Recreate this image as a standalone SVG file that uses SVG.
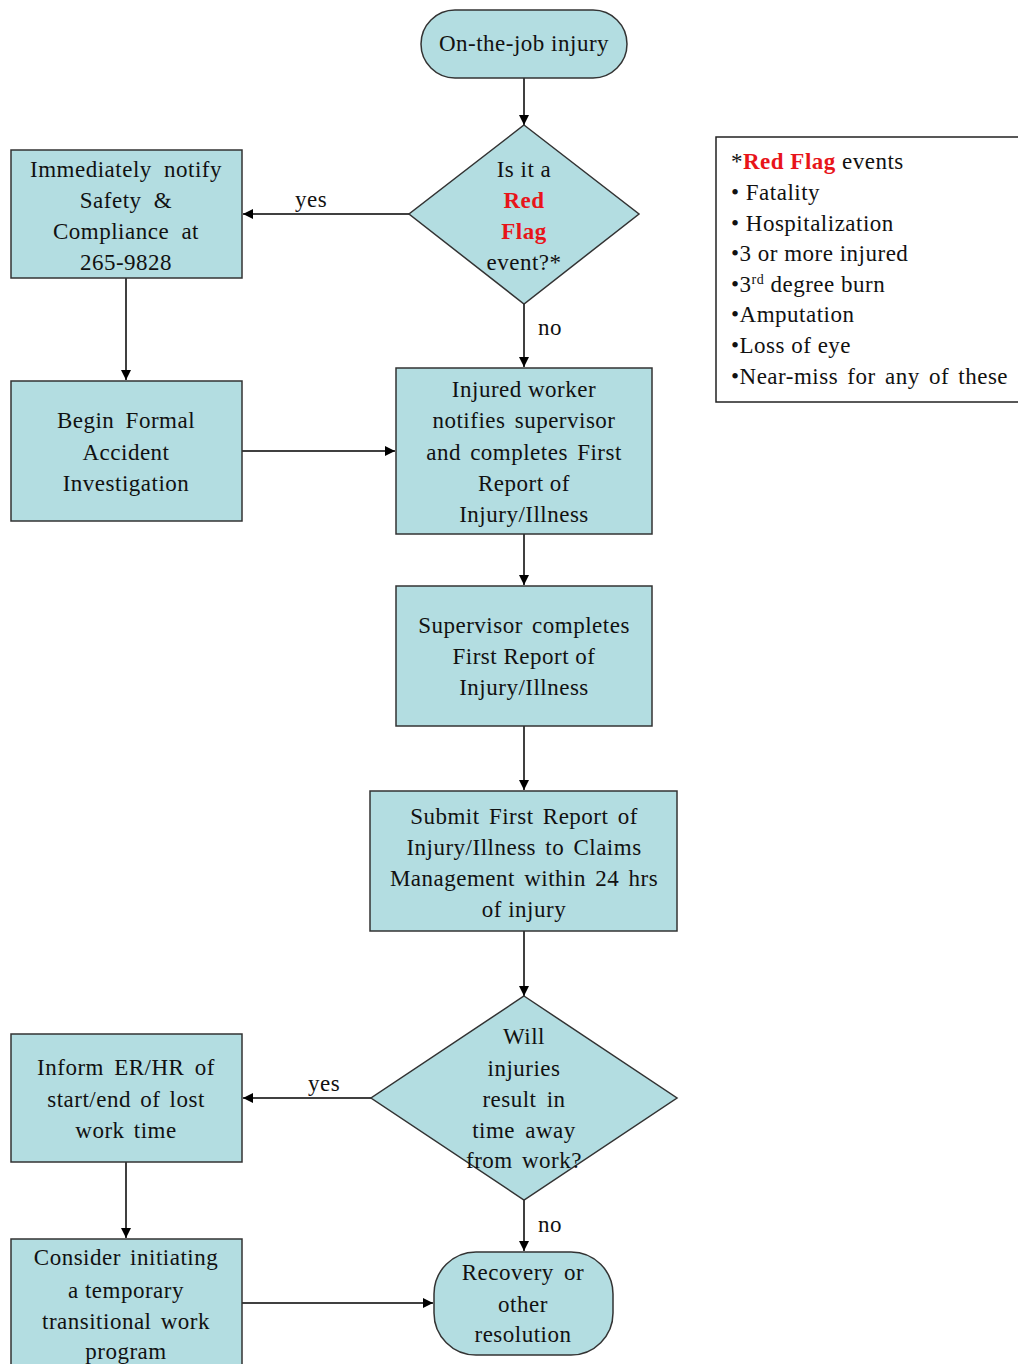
<svg xmlns="http://www.w3.org/2000/svg" width="1018" height="1364" viewBox="0 0 1018 1364">
<defs>
<marker id="ah" viewBox="0 0 10 10" refX="10" refY="5" markerWidth="10" markerHeight="10" markerUnits="userSpaceOnUse" orient="auto">
<path d="M0,0 L10,5 L0,10 z" fill="#000"/>
</marker>
<style>
.n{fill:#b3dde1;stroke:#333;stroke-width:1.5}
.t{font-family:"Liberation Serif","Times New Roman",serif;font-size:23px;letter-spacing:0.5px;fill:#111;text-anchor:middle}
.r{fill:#e8141a;font-weight:bold}
.l{font-family:"Liberation Serif","Times New Roman",serif;font-size:23px;letter-spacing:0.5px;fill:#111}
.c{stroke:#000;stroke-width:1.5;fill:none;marker-end:url(#ah)}
</style>
</defs>
<rect width="1018" height="1364" fill="#fff"/>
<g id="connectors">
<line class="c" x1="524" y1="78" x2="524" y2="125"/>
<line class="c" x1="409" y1="214" x2="243" y2="214"/>
<line class="c" x1="126" y1="278" x2="126" y2="380"/>
<line class="c" x1="242" y1="451" x2="395" y2="451"/>
<line class="c" x1="524" y1="304" x2="524" y2="367"/>
<line class="c" x1="524" y1="534" x2="524" y2="585"/>
<line class="c" x1="524" y1="726" x2="524" y2="790"/>
<line class="c" x1="524" y1="931" x2="524" y2="996"/>
<line class="c" x1="371" y1="1098" x2="243" y2="1098"/>
<line class="c" x1="126" y1="1162" x2="126" y2="1238"/>
<line class="c" x1="242" y1="1303" x2="433" y2="1303"/>
<line class="c" x1="524" y1="1200" x2="524" y2="1251"/>
<text class="l" x="295" y="207">yes</text>
<text class="l" x="538" y="335">no</text>
<text class="l" x="308" y="1091">yes</text>
<text class="l" x="538" y="1232">no</text>
</g>
<g id="start">
<rect class="n" x="421" y="10" width="206" height="68" rx="34"/>
<text class="t" x="524" y="51">On-the-job injury</text>
</g>
<g id="redflag">
<polygon class="n" points="524,125 639,214 524,304 409,214"/>
<text class="t" x="524" y="177">Is it a</text>
<text class="t r" x="524" y="208">Red</text>
<text class="t r" x="524" y="239">Flag</text>
<text class="t" x="524" y="270">event?*</text>
</g>
<g id="notify">
<rect class="n" x="11" y="150" width="231" height="128"/>
<text class="t" x="126" y="177" word-spacing="6">Immediately notify</text>
<text class="t" x="126" y="208" word-spacing="6">Safety &amp;</text>
<text class="t" x="126" y="239" word-spacing="6">Compliance at</text>
<text class="t" x="126" y="270">265-9828</text>
</g>
<g id="investigation">
<rect class="n" x="11" y="381" width="231" height="140"/>
<text class="t" x="126" y="428" word-spacing="5">Begin Formal</text>
<text class="t" x="126" y="460">Accident</text>
<text class="t" x="126" y="491">Investigation</text>
</g>
<g id="worker">
<rect class="n" x="396" y="368" width="256" height="166"/>
<text class="t" x="524" y="397">Injured worker</text>
<text class="t" x="524" y="428" word-spacing="3">notifies supervisor</text>
<text class="t" x="524" y="460" word-spacing="3">and completes First</text>
<text class="t" x="524" y="491">Report of</text>
<text class="t" x="524" y="522">Injury/Illness</text>
</g>
<g id="supervisor">
<rect class="n" x="396" y="586" width="256" height="140"/>
<text class="t" x="524" y="633" word-spacing="3">Supervisor completes</text>
<text class="t" x="524" y="664">First Report of</text>
<text class="t" x="524" y="695">Injury/Illness</text>
</g>
<g id="submit">
<rect class="n" x="370" y="791" width="307" height="140"/>
<text class="t" x="524" y="824" word-spacing="3">Submit First Report of</text>
<text class="t" x="524" y="855" word-spacing="3">Injury/Illness to Claims</text>
<text class="t" x="524" y="886" word-spacing="3">Management within 24 hrs</text>
<text class="t" x="524" y="917">of injury</text>
</g>
<g id="timeaway">
<polygon class="n" points="524,996 677,1098 524,1200 371,1098"/>
<text class="t" x="524" y="1044">Will</text>
<text class="t" x="524" y="1076">injuries</text>
<text class="t" x="524" y="1107" word-spacing="4">result in</text>
<text class="t" x="524" y="1138" word-spacing="4">time away</text>
<text class="t" x="524" y="1168" word-spacing="3">from work?</text>
</g>
<g id="inform">
<rect class="n" x="11" y="1034" width="231" height="128"/>
<text class="t" x="126" y="1075" word-spacing="4">Inform ER/HR of</text>
<text class="t" x="126" y="1107" word-spacing="3">start/end of lost</text>
<text class="t" x="126" y="1138" word-spacing="3">work time</text>
</g>
<g id="transitional">
<rect class="n" x="11" y="1239" width="231" height="135"/>
<text class="t" x="126" y="1265" word-spacing="3">Consider initiating</text>
<text class="t" x="126" y="1298">a temporary</text>
<text class="t" x="126" y="1329" word-spacing="3">transitional work</text>
<text class="t" x="126" y="1359">program</text>
</g>
<g id="recovery">
<rect class="n" x="434" y="1252" width="179" height="103" rx="42"/>
<text class="t" x="523" y="1280" word-spacing="4">Recovery or</text>
<text class="t" x="523" y="1312">other</text>
<text class="t" x="523" y="1342">resolution</text>
</g>
<g id="legend">
<rect x="716" y="137" width="310" height="265" fill="#fff" stroke="#222" stroke-width="1.5"/>
<text class="l" x="731" y="169">*<tspan class="r">Red Flag</tspan> events</text>
<text class="l" x="731" y="200">• Fatality</text>
<text class="l" x="731" y="231">• Hospitalization</text>
<text class="l" x="731" y="261">•3 or more injured</text>
<text class="l" x="731" y="292">•3<tspan font-size="14" dy="-8">rd</tspan><tspan dy="8"> degree burn</tspan></text>
<text class="l" x="731" y="322">•Amputation</text>
<text class="l" x="731" y="353">•Loss of eye</text>
<text class="l" x="731" y="384" word-spacing="3">•Near-miss for any of these</text>
</g>
</svg>
